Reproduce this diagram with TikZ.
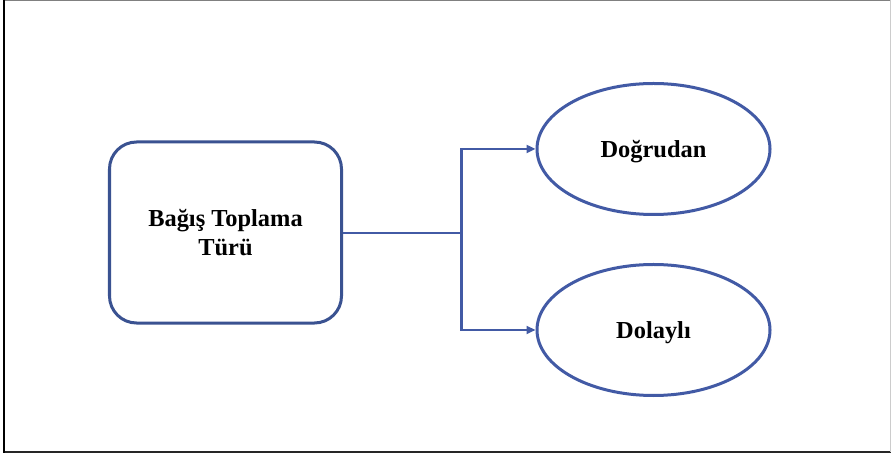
\documentclass[tikz,border=0pt]{standalone}
\usepackage{fontspec}
\setmainfont{Liberation Serif}
\usetikzlibrary{arrows.meta,shapes.geometric}
\definecolor{boxblue}{RGB}{58,82,145}
\definecolor{linkblue}{RGB}{66,90,165}
\tikzset{
  rootbox/.style={draw=boxblue, line width=3bp, rounded corners=27bp, fill=white,
    minimum width=232bp, minimum height=181bp, inner sep=0pt, align=center,
    font=\fontsize{24.5}{28.5}\selectfont\bfseries},
  leaf/.style={draw=linkblue, line width=3bp, ellipse, fill=white,
    minimum width=233bp, minimum height=131bp, inner sep=0pt, text depth=0pt,
    font=\fontsize{24.5}{28.5}\selectfont\bfseries},
  link/.style={draw=linkblue, line width=2.8bp},
  tip/.style={-{Triangle[length=9bp,width=8bp]}}
}
\begin{document}
\begin{tikzpicture}[x=1bp,y=-1bp]
\useasboundingbox (0,0) rectangle (891,456);
% outer frame
\draw[draw=gray, line width=1.2bp] (4,0.6) -- (891,0.6);
\draw[draw=black!85, line width=2bp] (4,452) -- (891,452);
\draw[draw=black, line width=2.5bp] (4,0) -- (4,453);
\draw[draw=black!20, line width=0.8bp] (890,0) -- (890,452);
% nodes
\node[rootbox] (root) at (225.5,232.5) {Bağış Toplama\\Türü};
\node[leaf] (direct) at (653.5,149) {Doğrudan};
\node[leaf] (indirect) at (653.5,330) {Dolaylı};
% connectors
\coordinate (split) at (461.5,233);
\draw[link] (root.east |- split) -- (split);
\draw[link,tip] (split) |- (direct.west);
\draw[link,tip] (split) |- (indirect.west);
\end{tikzpicture}
\end{document}
